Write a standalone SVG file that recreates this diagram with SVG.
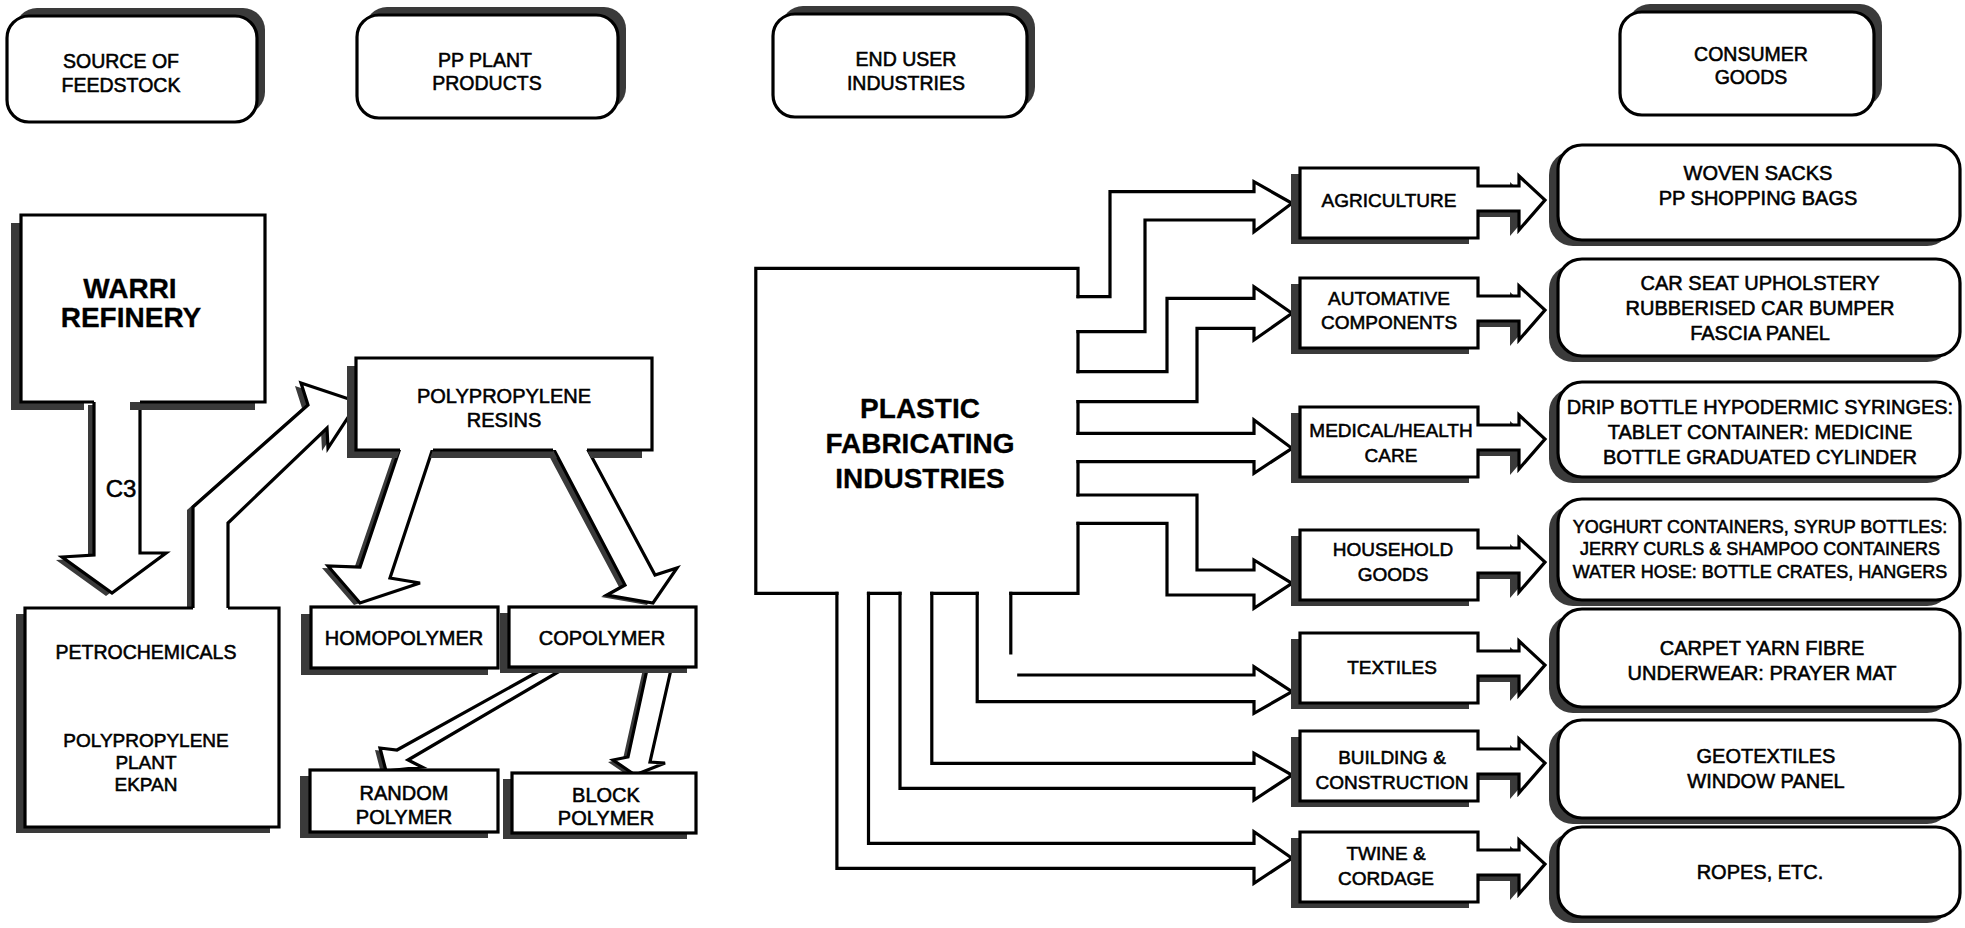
<svg xmlns="http://www.w3.org/2000/svg" width="1965" height="928" viewBox="0 0 1965 928">
<style>
.bx{fill:#fff;stroke:#000;stroke-width:3.2;stroke-linejoin:miter}
.sh{fill:#3a3a3a;stroke:none}
.ln{fill:none;stroke:#000;stroke-width:3.2;stroke-linejoin:miter;stroke-linecap:square}
.ar{fill:#fff;stroke:#000;stroke-width:3.2;stroke-linejoin:miter}
.t{font-family:"Liberation Sans",Arial,sans-serif;font-size:19px;text-anchor:middle;fill:#000;stroke:#000;stroke-width:0.55}
.h{font-size:19.5px}
.s{font-size:20px}
.c4{font-size:18px}
.b{font-weight:bold;font-size:28px;stroke-width:0.3}
</style>
<rect width="1965" height="928" fill="#fff"/>

<!-- header nodes -->
<g id="hdr-source">
<rect class="sh" x="15" y="8" width="250" height="106" rx="22"/>
<rect class="bx" x="7" y="16" width="250" height="106" rx="22"/>
<text class="t h" x="121" y="68">SOURCE OF</text>
<text class="t h" x="121" y="92">FEEDSTOCK</text>
</g>
<g id="hdr-pp">
<rect class="sh" x="365" y="7" width="261" height="103" rx="22"/>
<rect class="bx" x="357" y="15" width="261" height="103" rx="22"/>
<text class="t h" x="485" y="67">PP PLANT</text>
<text class="t h" x="487" y="90">PRODUCTS</text>
</g>
<g id="hdr-enduser">
<rect class="sh" x="781" y="6" width="254" height="103" rx="22"/>
<rect class="bx" x="773" y="14" width="254" height="103" rx="22"/>
<text class="t h" x="906" y="66">END USER</text>
<text class="t h" x="906" y="90">INDUSTRIES</text>
</g>
<g id="hdr-consumer">
<rect class="sh" x="1628" y="4" width="254" height="103" rx="22"/>
<rect class="bx" x="1620" y="12" width="254" height="103" rx="22"/>
<text class="t h" x="1751" y="61">CONSUMER</text>
<text class="t h" x="1751" y="84">GOODS</text>
</g>

<!-- connectors -->
<g id="connectors">
<!-- C3 -->
<polygon class="sh" points="88,405 134,405 134,556 160,556 106,596 56,560 88,558"/>
<polygon class="ar" points="94,400 140,400 140,553 166,553 112,593 62,557 94,555"/>
<text class="t" style="font-size:24px" x="121" y="497">C3</text>
<!-- petrochemicals to resins -->
<polygon class="sh" points="187,610 187,510 302,408 295,386 352,405 322,451 321,431 222,526 222,610"/>
<polygon class="ar" points="193,610 193,507 308,405 301,383 358,402 328,448 327,428 228,523 228,610"/>
<!-- resins to homopolymer / copolymer -->
<polygon class="sh" points="394,452 354,569 322,568 354,605 414,585 384,580 427,452"/>
<polygon class="ar" points="400,448 360,567 328,566 360,603 420,583 390,578 433,448"/>
<polygon class="sh" points="547,452 619,587 601,597 647,605 671,570 649,577 581,452"/>
<polygon class="ar" points="553,448 625,585 607,595 653,603 677,568 655,575 587,448"/>
<!-- copolymer to random / block -->
<polygon class="sh" points="545,669 392,752 375,750 381,773 417,769 403,762 565,669"/>
<polygon class="ar" points="550,665 397,750 380,748 386,771 422,767 408,760 570,665"/>
<polygon class="sh" points="643,669 623,759 608,762 630,777 660,765 645,764 667,669"/>
<polygon class="ar" points="648,665 628,757 613,760 635,775 665,763 650,762 672,665"/>
<!-- plastic fabricating industries pipes -->
<path class="ln" d="M1078,296.7 L1110,296.7 L1110,191.7 L1254,191.7 L1254,181.7 L1292,203.3 L1254,231.7 L1254,220 L1145,220 L1145,331.7 L1078,331.7"/>
<path class="ln" d="M1078,371.7 L1167,371.7 L1167,298.3 L1254,298.3 L1254,286.7 L1292,313.3 L1254,340 L1254,328.3 L1197,328.3 L1197,401.7 L1078,401.7"/>
<path class="ln" d="M1078,433.3 L1254,433.3 L1254,420 L1292,448.3 L1254,473.3 L1254,461.7 L1078,461.7"/>
<path class="ln" d="M1078,495 L1197,495 L1197,570 L1254,570 L1254,560 L1292,583.3 L1254,608.3 L1254,595 L1167,595 L1167,523.3 L1078,523.3"/>
<path class="ln" d="M1010.8,593.3 L1010.8,653 M1018.8,675 L1254,675 L1254,666.7 L1292,691.7 L1254,713.3 L1254,701.7 L977.2,701.7 L977.2,593.3"/>
<path class="ln" d="M931.8,593.3 L931.8,763.3 L1254,763.3 L1254,753.3 L1292,775 L1254,800 L1254,788.3 L900,788.3 L900,593.3"/>
<path class="ln" d="M868.5,593.3 L868.5,843.3 L1254,843.3 L1254,831.7 L1292,858.3 L1254,883.3 L1254,868.3 L836.9,868.3 L836.9,593.3"/>
</g>

<!-- left nodes -->
<g id="warri">
<path class="sh" d="M11,223 H255 V410 H130 V402 H84 V410 H11 Z"/>
<path class="bx" d="M94,402 H21 V215 H265 V402 H140"/>
<text class="t b" x="130" y="298">WARRI</text>
<text class="t b" x="131" y="327">REFINERY</text>
</g>
<g id="petro">
<rect class="sh" x="16" y="614" width="254" height="219"/>
<path class="bx" d="M193,608 H25 V827 H279 V608 H228"/>
<text class="t" style="font-size:19.5px" x="146" y="659">PETROCHEMICALS</text>
<text class="t" x="146" y="747">POLYPROPYLENE</text>
<text class="t" x="146" y="769">PLANT</text>
<text class="t" x="146" y="791">EKPAN</text>
</g>
<g id="resins">
<path class="sh" d="M347,366 H356 V450 H400 L397,458 H347 Z M433,450 H553 L557,458 H430 Z M587,450 H642 V458 H591 Z"/>
<path class="bx" d="M400,450 H356 V358 H652 V450 H587 M553,450 H433"/>
<text class="t s" x="504" y="403">POLYPROPYLENE</text>
<text class="t s" x="504" y="427">RESINS</text>
</g>
<g id="homo">
<rect class="sh" x="301" y="614" width="187" height="61"/>
<rect class="bx" x="311" y="607" width="187" height="61"/>
<text class="t s" x="404" y="645">HOMOPOLYMER</text>
</g>
<g id="copo">
<rect class="sh" x="500" y="613" width="187" height="60"/>
<rect class="bx" x="509" y="607" width="187" height="60"/>
<text class="t s" x="602" y="645">COPOLYMER</text>
</g>
<g id="random">
<rect class="sh" x="300" y="776" width="188" height="62"/>
<rect class="bx" x="310" y="770" width="188" height="62"/>
<text class="t s" x="404" y="800">RANDOM</text>
<text class="t s" x="404" y="824">POLYMER</text>
</g>
<g id="block">
<rect class="sh" x="503" y="779" width="184" height="60"/>
<rect class="bx" x="512" y="773" width="184" height="60"/>
<text class="t s" x="606" y="802">BLOCK</text>
<text class="t s" x="606" y="825">POLYMER</text>
</g>

<!-- plastic fabricating industries -->
<g id="plastic">
<path class="ln" d="M1078,296.7 L1078,268.3 L755.8,268.3 L755.8,593.3 L836.9,593.3 M868.5,593.3 L900,593.3 M931.8,593.3 L977.2,593.3 M1010.8,593.3 L1078,593.3 L1078,523.3 M1078,495 L1078,461.7 M1078,433.3 L1078,401.7 M1078,371.7 L1078,331.7"/>
<text class="t b" x="920" y="418">PLASTIC</text>
<text class="t b" x="920" y="453">FABRICATING</text>
<text class="t b" x="920" y="488">INDUSTRIES</text>
</g>

<!-- industry nodes -->
<defs>
<path id="ind" d="M1300,0 H1478 V18 H1519 V8 L1545,32 L1519,62 V43 H1478 V70 H1300 Z"/>
</defs>
<g id="agri">
<use href="#ind" class="sh" transform="translate(-9,174)"/>
<use href="#ind" class="bx" transform="translate(0,168)"/>
<text class="t" x="1389" y="207">AGRICULTURE</text>
</g>
<g id="auto">
<use href="#ind" class="sh" transform="translate(-9,284)"/>
<use href="#ind" class="bx" transform="translate(0,278)"/>
<text class="t" x="1389" y="305">AUTOMATIVE</text>
<text class="t" x="1389" y="329">COMPONENTS</text>
</g>
<g id="medical">
<use href="#ind" class="sh" transform="translate(-9,413)"/>
<use href="#ind" class="bx" transform="translate(0,407)"/>
<text class="t" x="1391" y="437">MEDICAL/HEALTH</text>
<text class="t" x="1391" y="462">CARE</text>
</g>
<g id="household">
<use href="#ind" class="sh" transform="translate(-9,536)"/>
<use href="#ind" class="bx" transform="translate(0,530)"/>
<text class="t" x="1393" y="556">HOUSEHOLD</text>
<text class="t" x="1393" y="581">GOODS</text>
</g>
<g id="textiles">
<use href="#ind" class="sh" transform="translate(-9,639)"/>
<use href="#ind" class="bx" transform="translate(0,633)"/>
<text class="t" x="1392" y="674">TEXTILES</text>
</g>
<g id="building">
<use href="#ind" class="sh" transform="translate(-9,737)"/>
<use href="#ind" class="bx" transform="translate(0,731)"/>
<text class="t" x="1392" y="764">BUILDING &amp;</text>
<text class="t" x="1392" y="789">CONSTRUCTION</text>
</g>
<g id="twine">
<use href="#ind" class="sh" transform="translate(-9,838)"/>
<use href="#ind" class="bx" transform="translate(0,832)"/>
<text class="t" x="1386" y="860">TWINE &amp;</text>
<text class="t" x="1386" y="885">CORDAGE</text>
</g>

<!-- consumer goods nodes -->
<g id="cg1">
<rect class="sh" x="1549" y="151" width="402" height="95" rx="24"/>
<rect class="bx" x="1558" y="145" width="402" height="95" rx="24"/>
<text class="t s" x="1758" y="180">WOVEN SACKS</text>
<text class="t s" x="1758" y="205">PP SHOPPING BAGS</text>
</g>
<g id="cg2">
<rect class="sh" x="1549" y="265" width="402" height="97" rx="24"/>
<rect class="bx" x="1558" y="259" width="402" height="97" rx="24"/>
<text class="t s" x="1760" y="290">CAR SEAT UPHOLSTERY</text>
<text class="t s" x="1760" y="315">RUBBERISED CAR BUMPER</text>
<text class="t s" x="1760" y="340">FASCIA PANEL</text>
</g>
<g id="cg3">
<rect class="sh" x="1549" y="388" width="402" height="95" rx="24"/>
<rect class="bx" x="1558" y="382" width="402" height="95" rx="24"/>
<text class="t s" x="1760" y="414">DRIP BOTTLE HYPODERMIC SYRINGES:</text>
<text class="t s" x="1760" y="439">TABLET CONTAINER: MEDICINE</text>
<text class="t s" x="1760" y="464">BOTTLE GRADUATED CYLINDER</text>
</g>
<g id="cg4">
<rect class="sh" x="1549" y="505" width="402" height="101" rx="24"/>
<rect class="bx" x="1558" y="499" width="402" height="101" rx="24"/>
<text class="t c4" x="1760" y="533">YOGHURT CONTAINERS, SYRUP BOTTLES:</text>
<text class="t c4" x="1760" y="555">JERRY CURLS &amp; SHAMPOO CONTAINERS</text>
<text class="t c4" x="1760" y="578">WATER HOSE: BOTTLE CRATES, HANGERS</text>
</g>
<g id="cg5">
<rect class="sh" x="1549" y="615" width="402" height="98" rx="24"/>
<rect class="bx" x="1558" y="609" width="402" height="98" rx="24"/>
<text class="t s" x="1762" y="655">CARPET YARN FIBRE</text>
<text class="t s" x="1762" y="680">UNDERWEAR: PRAYER MAT</text>
</g>
<g id="cg6">
<rect class="sh" x="1549" y="726" width="402" height="98" rx="24"/>
<rect class="bx" x="1558" y="720" width="402" height="98" rx="24"/>
<text class="t s" x="1766" y="763">GEOTEXTILES</text>
<text class="t s" x="1766" y="788">WINDOW PANEL</text>
</g>
<g id="cg7">
<rect class="sh" x="1549" y="833" width="402" height="90" rx="24"/>
<rect class="bx" x="1558" y="827" width="402" height="90" rx="24"/>
<text class="t s" x="1760" y="879">ROPES, ETC.</text>
</g>
</svg>
